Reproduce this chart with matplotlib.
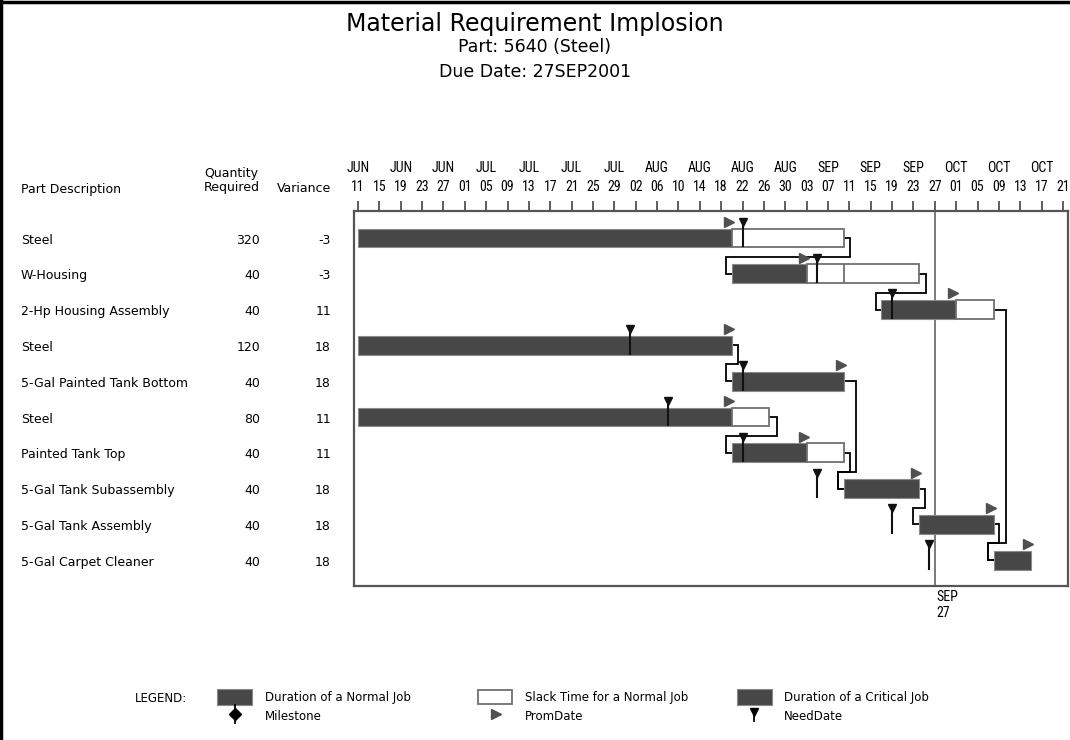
import matplotlib
matplotlib.use("Agg")
import matplotlib.pyplot as plt
import matplotlib.dates as mdates
from matplotlib import font_manager
from matplotlib.lines import Line2D
from matplotlib.patches import Rectangle
import numpy as np
import pandas as pd

# ---- data ----
parts = ["Steel", "W-Housing", "2-Hp Housing Assembly", "Steel", "5-Gal Painted Tank Bottom",
         "Steel", "Painted Tank Top", "5-Gal Tank Subassembly", "5-Gal Tank Assembly",
         "5-Gal Carpet Cleaner"]
qty_required = [320, 40, 40, 120, 40, 80, 40, 40, 40, 40]
variance = [-3, -3, 11, 18, 18, 11, 11, 18, 18, 18]
job_start = ["2001-06-11", "2001-08-20", "2001-09-17", "2001-06-11", "2001-08-20",
             "2001-06-11", "2001-08-20", "2001-09-10", "2001-09-24", "2001-10-08"]
job_finish = ["2001-08-20", "2001-09-03", "2001-10-01", "2001-08-20", "2001-09-10",
              "2001-08-20", "2001-09-03", "2001-09-24", "2001-10-08", "2001-10-15"]
slack_finish = ["2001-09-10", "2001-09-24", "2001-10-08", None, None,
                "2001-08-27", "2001-09-10", None, None, None]
need_date = ["2001-08-22", "2001-09-05", "2001-09-19", "2001-08-01", "2001-08-22",
             "2001-08-08", "2001-08-22", "2001-09-05", "2001-09-19", "2001-09-26"]
prom_date = ["2001-08-20", "2001-09-03", "2001-10-01", "2001-08-20", "2001-09-10",
             "2001-08-20", "2001-09-03", "2001-09-24", "2001-10-08", "2001-10-15"]
slack_marks = [(1, "2001-09-10")]          # extra divider inside the W-Housing slack
links = [(0, 1), (1, 2), (2, 9), (3, 4), (4, 7), (5, 6), (6, 7), (7, 8), (8, 9)]
link_jog = [1.1, 1.3, 2.4, 1.1, 2.3, 1.5, 1.1, 1.1, 1.1]   # days to the right of the predecessor
due_date = "2001-09-27"
axis_start, axis_end = "2001-06-11", "2001-10-21"

DARK = "#474747"
FONT = "DejaVu Sans"


def narrow_font():
    names = {f.name for f in font_manager.fontManager.ttflist}
    for n in ["Liberation Sans Narrow", "Roboto Condensed", "Open Sans Condensed", "Noto Sans Condensed"]:
        if n in names:
            return dict(family=n), 10
    for f in font_manager.fontManager.ttflist:
        if f.name in ("DejaVu Sans", "Noto Sans", "Open Sans", "Roboto") and "condensed" in str(f.stretch):
            return dict(family=f.name, stretch=f.stretch), 9
    return dict(family=FONT), 8


def d(s):
    return mdates.date2num(pd.Timestamp(s))


NARROW, NARROW_SIZE = narrow_font()

fig = plt.figure(figsize=(10.7, 7.4), dpi=100)
W, H = 1070, 740
ax = fig.add_axes([354 / W, 1 - 586 / H, (1068 - 354) / W, (586 - 211) / H])

rows = np.arange(len(parts))
start = np.array([d(s) for s in job_start])
finish = np.array([d(s) for s in job_finish])
slack = np.array([d(s) if s else np.nan for s in slack_finish])
need = np.array([d(s) for s in need_date])
prom = np.array([d(s) for s in prom_date])
bar_end = np.where(np.isnan(slack), finish, slack)

BH = 0.53
ax.barh(rows, finish - start, left=start, height=BH, color=DARK, edgecolor="#8a8a8a", lw=0.8, zorder=2)
has_slack = ~np.isnan(slack)
ax.barh(rows[has_slack], (slack - finish)[has_slack], left=finish[has_slack], height=BH,
        color="white", edgecolor="#707070", lw=1.3, zorder=2)
for r, s in slack_marks:
    ax.vlines(d(s), r - BH / 2, r + BH / 2, color="#707070", lw=1.3, zorder=3)

# need dates: flag + line through the bar height
ax.vlines(need, rows - 0.42, rows + BH / 2, color="#111111", lw=1.5, zorder=4)
ax.plot(need, rows - 0.45, ls="none", marker="v", ms=5.5, color="#111111", zorder=5)
# promised dates: right-pointing triangle ending at the date
ax.plot(prom - 0.55, rows - 0.45, ls="none", marker=">", ms=6.5, color="#505050", zorder=5)

# precedence connectors
for (p, s), jog in zip(links, link_jog):
    x0 = bar_end[p]
    xr = x0 + jog
    xl = start[s] - 1.1
    ym = s - 0.47
    ax.plot([x0, xr, xr, xl, xl, start[s]], [p, p, ym, ym, s, s],
            color="black", lw=1.3, zorder=1, solid_joinstyle="miter")

# due-date reference line
due = d(due_date)
ax.axvline(due, color="#7a7a7a", lw=1.4, zorder=1.5)
ax.annotate(pd.Timestamp(due_date).strftime("%b\n%d").upper(), xy=(due, 0), xycoords=("data", "axes fraction"),
            xytext=(1, -3), textcoords="offset points", ha="left", va="top",
            fontsize=NARROW_SIZE, linespacing=1.15, **NARROW)

ax.set_ylim(9.72, -0.754)
ax.set_xlim(d(axis_start) - 0.75, d(axis_end) + 0.94)
ticks = pd.date_range(axis_start, axis_end, freq="4D")
labels = [(t.strftime("%b").upper() if i % 2 == 0 else "") + "\n" + t.strftime("%d") for i, t in enumerate(ticks)]
ax.set_xticks([d(t) for t in ticks])
ax.set_xticklabels(labels)
ax.set_yticks([])
ax.tick_params(axis="x", top=True, bottom=False, labeltop=True, labelbottom=False,
               length=7, width=1.1, color="#333333", pad=5)
for t in ax.get_xticklabels():
    t.set_fontproperties(font_manager.FontProperties(size=NARROW_SIZE, **NARROW))
    t.set_linespacing(1.45)
for sp in ax.spines.values():
    sp.set_color("#555555")
    sp.set_linewidth(1.6)

# ---- left-hand table ----
tr = matplotlib.transforms.blended_transform_factory(fig.transFigure, ax.transData)
TS = 9
for r in rows:
    fig.text(21 / W, r + 0.06, parts[r], transform=tr, ha="left", va="center", fontsize=TS, family=FONT)
    fig.text(260 / W, r + 0.06, str(qty_required[r]), transform=tr, ha="right", va="center", fontsize=TS, family=FONT)
    fig.text(331 / W, r + 0.06, str(variance[r]), transform=tr, ha="right", va="center", fontsize=TS, family=FONT)
fig.text(21 / W, 1 - 189 / H, "Part Description", ha="left", va="center", fontsize=TS, family=FONT)
fig.text(260 / W, 1 - 180 / H, "Quantity\nRequired", ha="right", va="center", fontsize=TS,
         family=FONT, multialignment="left", linespacing=1.1)
fig.text(331 / W, 1 - 189 / H, "Variance", ha="right", va="center", fontsize=TS, family=FONT)

# ---- titles ----
fig.text(0.5, 1 - 24 / H, "Material Requirement Implosion", ha="center", va="center", fontsize=17, family=FONT)
fig.text(0.5, 1 - 47 / H, "Part: 5640 (Steel)", ha="center", va="center", fontsize=12.5, family=FONT)
fig.text(0.5, 1 - 72 / H, "Due Date: 27SEP2001", ha="center", va="center", fontsize=12.5, family=FONT)

# ---- legend, drawn in pixel space ----
lg = fig.add_axes([0, 0, 1, 1], zorder=-1)
lg.set_xlim(0, W); lg.set_ylim(H, 0); lg.axis("off")
LS = 8.5
lg.text(187, 699, "LEGEND:", ha="right", va="center", fontsize=LS, family=FONT)
lg.add_patch(Rectangle((217, 689), 35, 16, facecolor=DARK, edgecolor="#8a8a8a", lw=0.8))
lg.plot([234.5, 234.5], [705, 723], color="black", lw=1.3)
lg.plot(234.5, 714, marker="D", ms=6, color="black")
lg.text(265, 698, "Duration of a Normal Job", ha="left", va="center", fontsize=LS, family=FONT)
lg.text(265, 717, "Milestone", ha="left", va="center", fontsize=LS, family=FONT)
lg.add_patch(Rectangle((478, 690), 34, 14, facecolor="white", edgecolor="#707070", lw=1.3))
lg.plot(496, 714, marker=">", ms=6.5, color="#505050")
lg.text(525, 698, "Slack Time for a Normal Job", ha="left", va="center", fontsize=LS, family=FONT)
lg.text(525, 717, "PromDate", ha="left", va="center", fontsize=LS, family=FONT)
lg.add_patch(Rectangle((737, 689), 35, 16, facecolor=DARK, edgecolor="#8a8a8a", lw=0.8))
lg.plot([753.5, 753.5], [712, 721], color="black", lw=1.3)
lg.plot(753.5, 712, marker="v", ms=5.5, color="black")
lg.text(784, 698, "Duration of a Critical Job", ha="left", va="center", fontsize=LS, family=FONT)
lg.text(784, 717, "NeedDate", ha="left", va="center", fontsize=LS, family=FONT)

# page border (top and left edges)
fig.add_artist(Line2D([0, 1], [1 - 1.5 / H, 1 - 1.5 / H], transform=fig.transFigure, color="black", lw=2.5))
fig.add_artist(Line2D([1.5 / W, 1.5 / W], [0, 1], transform=fig.transFigure, color="black", lw=2.5))

fig.savefig("out.png", dpi=100)
